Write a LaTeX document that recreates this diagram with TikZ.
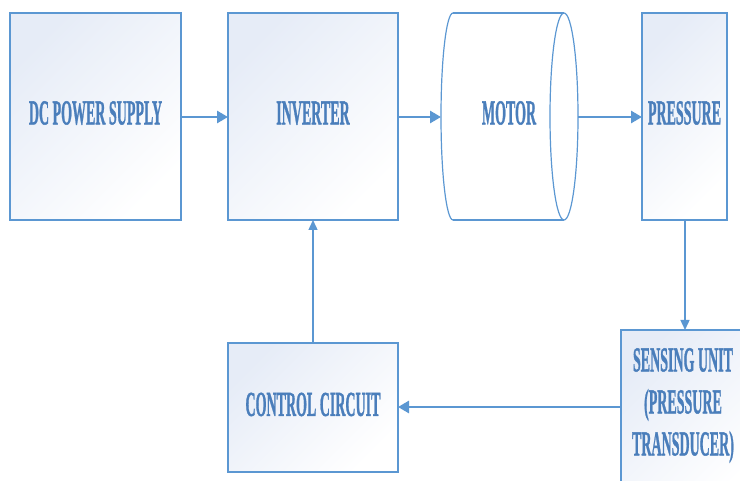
\documentclass[tikz,border=0pt]{standalone}
\usepackage{fontspec}
\setmainfont{Liberation Serif}[BoldFeatures={FakeBold=1.5}]
\usetikzlibrary{arrows.meta}
\definecolor{lineblue}{HTML}{5B97D2}
\definecolor{textblue}{HTML}{4A7EBB}
\definecolor{shadeblue}{HTML}{E6ECF7}
\newcommand{\lbl}[1]{\scalebox{1}[2.5]{\fontsize{14}{16.8}\selectfont\bfseries\begin{tabular}{@{}c@{}}#1\end{tabular}}}
\begin{document}
\begin{tikzpicture}[x=1pt,y=-1pt,
  blockbox/.style={draw=lineblue, line width=1.4pt, shading=axis, left color=shadeblue, right color=white, shading angle=45, inner sep=0pt},
  lbltext/.style={text=textblue, align=center, inner sep=0pt},
  thickarrow/.style={draw=lineblue, line width=2.8pt, -{Triangle[length=11pt,width=12pt]}},
  thinarrow/.style={draw=lineblue, line width=1.4pt, -{Triangle[length=10pt,width=9pt]}}
]
\useasboundingbox (0,0) rectangle (740,481);
\begin{scope}
\clip (0,0) rectangle (740,481);
% boxes
\path[blockbox] (10,13) rectangle (181,220);
\path[blockbox] (228,13) rectangle (398,220);
\path[blockbox] (642,13) rectangle (727,220);
\path[blockbox] (621,330) rectangle (760,500);
\path[blockbox] (228,343) rectangle (398,472);
% motor cylinder
\draw[lineblue, line width=1.4pt] (453,13) -- (564,13);
\draw[lineblue, line width=1.4pt] (453,220) -- (564,220);
\draw[lineblue, line width=1.2pt] (453,13) arc[start angle=270,end angle=90,x radius=12,y radius=103.5];
\draw[lineblue, line width=1.2pt] (564,116.5) ellipse[x radius=14,y radius=103.5];
\end{scope}
% nodes
\node[lbltext] (dc) at (95.5,116) {\lbl{DC POWER SUPPLY}};
\node[lbltext] (inv) at (313,116) {\lbl{INVERTER}};
\node[lbltext] (mot) at (509,116) {\lbl{MOTOR}};
\node[lbltext] (pres) at (684.5,116) {\lbl{PRESSURE}};
\node[lbltext] (sens) at (683,405) {\lbl{SENSING UNIT\\(PRESSURE\\TRANSDUCER)}};
\node[lbltext] (ctrl) at (313,407.5) {\lbl{CONTROL CIRCUIT}};
% anchor coordinates
\coordinate (dcR) at (181,117);
\coordinate (invL) at (228,117);
\coordinate (invR) at (398,117);
\coordinate (motL) at (441,117);
\coordinate (motR) at (578,117);
\coordinate (presL) at (642,117);
\coordinate (presB) at (685,220);
\coordinate (sensT) at (685,330);
\coordinate (sensL) at (621,407);
\coordinate (ctrlR) at (398,407);
\coordinate (ctrlT) at (313,343);
\coordinate (invB) at (313,220);
% connectors
\draw[thickarrow] (dcR) -- (invL);
\draw[thickarrow] (invR) -- (motL);
\draw[thickarrow] (motR) -- (presL);
\draw[thinarrow] (presB) -- (sensT);
\draw[thickarrow] (sensL) -- (ctrlR);
\draw[thinarrow] (ctrlT) -- (invB);
\end{tikzpicture}
\end{document}
